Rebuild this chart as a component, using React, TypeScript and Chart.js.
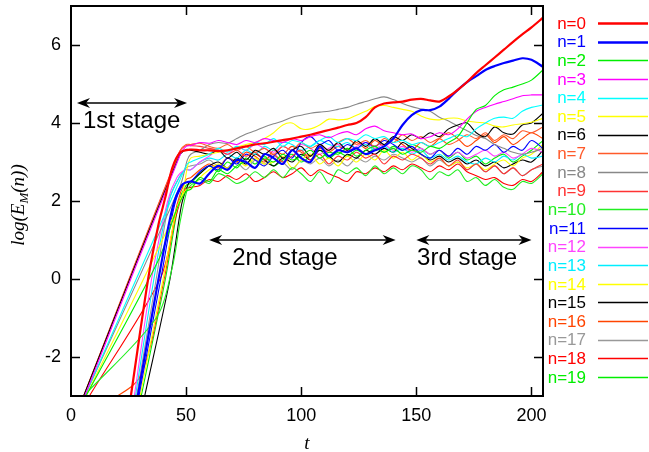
import React, { useEffect, useRef } from 'react';
import { Chart, registerables } from 'chart.js';
Chart.register(...registerables);

// shared time grid for the saturated part
const T = [52,56,60,64,68,72,76,80,84,88,92,96,100,104,108,112,116,120,124,128,132,136,140,144,148,152,156,160,164,168,172,176,180,184,188,192,196,200,205];

// growth phase points [t, log E]
const g0 = [[26,-3],[33.5,0],[38,1.4],[41,2.1],[44,2.85],[47.5,3.25]];
const g1 = [[29,-3],[38,0],[44,1.8],[48,2.4]];
const g2 = [[6.5,-3],[38,0.49],[46,1.8],[50,2.25]];
const g3 = [[6,-3],[47.5,3.2],[50,3.4]];
const g4 = [[6,-3],[47,2.5],[50.5,2.95]];
const g5 = [[6.5,-3],[47.5,2.0],[50.5,2.85]];
const g6 = [[5.5,-3],[47,3.15],[50,3.32]];
const g7 = [[5.5,-3],[47.5,3.3],[50,3.45]];
const g8 = [[6,-3],[47.5,2.4],[50.5,3.05]];
const g9 = [[5.5,-3],[47,3.25],[50,3.42]];
const g10 = [[5.5,-3],[37,-1.0],[44,0.3],[47.5,1.5],[50.5,2.3]];
const g11 = [[29.5,-3],[39,0],[45,1.9],[49,2.45]];
const g12 = [[27.5,-3],[35,0],[42,2.0],[46,2.6],[49.5,2.8]];
const g13 = [[28,-3],[36,0],[42,1.9],[46,2.5],[49.5,2.8]];
const g14 = [[30,-3],[40,0],[46,1.8],[50,2.3]];
const g15 = [[32,-3],[43,0],[48,1.9],[51,2.45]];
const g16 = [[15,-3.2],[30,-2.5],[40.5,0],[46,1.9],[50,2.55]];
const g17 = [[28.5,-3],[37,0],[43,2.1],[47,2.6],[50,2.85]];
const g18 = [[8,-3],[38.7,0],[45.5,1.6],[49.5,2.3]];
const g19 = [[30.5,-3],[41,0],[47,2.0],[50,2.4]];

// saturated phase values on T
const p0 = [3.32,3.30,3.30,3.28,3.30,3.35,3.40,3.45,3.48,3.52,3.56,3.60,3.65,3.70,3.76,3.82,3.88,3.95,4.00,4.15,4.40,4.50,4.53,4.55,4.60,4.62,4.58,4.55,4.68,4.85,5.05,5.28,5.48,5.68,5.88,6.08,6.27,6.45,6.70];
const p1 = [2.50,2.45,2.70,2.90,2.80,3.05,3.00,2.85,3.20,3.10,2.95,3.30,3.10,3.00,3.40,3.15,3.30,3.25,3.35,3.20,3.30,3.40,3.60,3.95,4.20,4.33,4.33,4.42,4.62,4.85,5.05,5.20,5.36,5.46,5.54,5.60,5.66,5.62,5.44];
const p2 = [2.30,2.60,2.50,2.80,2.70,2.90,3.00,2.85,3.10,3.00,3.20,3.05,3.15,3.30,3.10,3.25,3.20,3.35,3.15,3.30,3.40,3.25,3.35,3.20,3.30,3.25,3.40,3.35,3.50,3.65,4.00,4.35,4.45,4.70,4.85,4.92,5.00,5.10,5.36];
const p3 = [3.42,3.50,3.48,3.55,3.50,3.45,3.55,3.50,3.60,3.55,3.50,3.60,3.55,3.65,3.70,3.62,3.72,3.78,3.70,3.85,3.92,3.80,3.75,3.70,3.72,3.60,3.65,3.75,3.70,3.85,4.10,4.30,4.40,4.48,4.55,4.62,4.70,4.72,4.72];
const p4 = [3.00,3.10,3.20,3.35,3.25,3.40,3.30,3.50,3.45,3.60,3.40,3.55,3.50,3.40,3.55,3.65,3.50,3.60,3.55,3.70,3.60,3.65,3.50,3.55,3.45,3.50,3.40,3.50,3.60,3.70,3.65,3.85,4.00,4.12,4.15,4.12,4.30,4.40,4.46];
const p5 = [3.10,3.15,3.20,3.25,3.30,3.38,3.45,3.50,3.60,3.75,3.95,4.00,3.85,3.85,3.95,4.10,4.08,4.10,4.20,4.30,4.42,4.45,4.40,4.35,4.30,4.18,4.10,4.08,4.12,4.12,4.05,4.02,4.00,3.92,3.90,3.95,3.98,4.02,4.12];
const p6 = [3.30,3.25,3.20,3.30,3.10,3.25,3.05,3.30,3.20,3.35,3.10,3.30,3.40,3.15,3.45,3.30,3.50,3.30,3.55,3.40,3.60,3.45,3.65,3.55,3.70,3.60,3.75,3.65,3.85,3.95,4.00,3.75,3.65,3.90,3.75,3.72,3.95,4.00,4.25];
const p7 = [3.45,3.48,3.40,3.35,3.45,3.30,3.40,3.25,3.35,3.20,3.40,3.30,3.50,3.35,3.45,3.30,3.50,3.60,3.45,3.55,3.40,3.60,3.50,3.70,3.55,3.65,3.50,3.60,3.45,3.55,3.70,3.60,3.75,3.55,3.70,3.60,3.80,3.75,3.90];
const p8 = [3.20,3.30,3.45,3.50,3.48,3.60,3.72,3.80,3.90,3.98,4.05,4.15,4.20,4.25,4.28,4.30,4.35,4.40,4.48,4.55,4.62,4.67,4.60,4.50,4.42,4.36,4.30,4.15,4.05,3.92,3.80,3.68,3.60,3.45,3.35,3.25,3.20,3.25,3.35];
const p9 = [3.42,3.40,3.35,3.30,3.20,3.30,3.15,3.25,3.05,3.20,3.00,3.15,3.30,3.05,3.20,2.95,3.15,3.05,3.25,3.10,3.20,2.95,3.15,3.05,3.20,3.10,2.95,3.10,2.90,3.05,2.80,2.95,2.75,2.90,2.70,2.85,2.65,2.80,2.95];
const p10 = [2.40,2.55,2.45,2.70,2.60,2.45,2.55,2.75,2.60,2.80,2.60,2.85,2.70,2.50,2.75,2.45,2.80,2.70,2.85,2.65,2.90,2.70,2.85,2.70,2.90,2.80,2.55,2.75,2.65,2.80,2.50,2.60,2.40,2.55,2.35,2.30,2.50,2.45,2.70];
const p11 = [2.50,2.75,2.90,2.80,3.10,2.95,3.20,3.05,2.90,3.15,3.30,3.10,3.50,3.65,3.45,3.55,3.30,3.45,3.35,3.50,3.40,3.55,3.45,3.30,3.40,3.20,3.10,3.30,3.15,3.35,3.20,3.40,3.30,3.45,3.25,3.40,3.30,3.55,3.35];
const p12 = [2.80,3.00,3.15,3.30,3.20,3.40,3.30,3.45,3.35,3.25,3.40,3.30,3.45,3.35,3.20,3.35,3.45,3.30,3.40,3.50,3.35,3.45,3.30,3.40,3.25,3.35,3.20,3.30,3.15,3.25,3.10,3.20,3.30,3.15,3.25,3.10,3.20,3.35,3.25];
const p13 = [2.80,3.00,3.10,3.05,3.20,3.10,3.30,3.20,3.40,3.30,3.50,3.45,3.30,3.40,3.55,3.45,3.40,3.50,3.35,3.45,3.30,3.40,3.25,3.35,3.20,3.30,3.10,3.20,3.05,3.15,3.00,2.95,3.10,3.00,3.15,3.05,3.20,3.10,3.15];
const p14 = [2.30,2.60,2.80,2.95,2.85,3.05,2.90,3.10,2.95,3.00,3.15,2.85,3.05,3.20,2.95,3.10,2.90,3.15,3.00,3.20,3.05,3.30,3.10,3.25,3.05,3.20,3.00,3.10,2.90,3.00,2.85,2.95,2.80,2.95,3.05,2.90,3.10,3.20,3.45];
const p15 = [2.50,2.70,2.90,3.00,2.85,3.10,2.95,3.20,3.05,2.90,3.10,3.00,3.20,3.05,3.30,3.15,3.00,3.20,3.10,3.30,3.20,3.35,3.25,3.50,3.35,3.20,3.05,3.15,3.00,3.10,2.95,3.05,2.90,3.00,2.85,2.95,3.05,3.00,3.30];
const p16 = [2.60,2.80,2.95,2.85,3.10,3.00,3.25,3.15,3.00,3.30,3.20,3.40,3.25,3.15,3.35,3.25,3.40,3.30,3.50,3.35,3.55,3.40,3.60,3.45,3.30,3.50,3.40,3.60,3.75,3.60,3.40,3.55,3.70,3.50,3.65,3.45,3.60,3.75,3.60];
const p17 = [2.90,2.95,3.05,2.90,3.10,3.00,2.80,3.05,2.95,3.15,3.00,2.80,3.05,2.95,3.10,2.90,3.05,2.90,3.10,3.00,3.15,3.05,3.20,3.10,3.00,3.10,2.90,3.05,2.90,3.00,2.80,2.95,2.75,2.90,2.70,2.85,2.65,2.80,2.90];
const p18 = [2.35,2.40,2.55,2.50,2.65,2.55,2.70,2.50,2.60,2.75,2.60,2.70,2.85,2.65,2.80,2.70,2.60,2.50,2.75,2.70,2.85,2.75,2.90,2.80,2.95,2.85,2.75,2.90,2.80,2.95,2.75,2.65,2.55,2.60,2.45,2.40,2.55,2.50,2.75];
const p19 = [2.45,2.70,2.90,2.75,3.00,2.85,3.10,2.95,3.15,2.90,3.05,3.20,3.00,3.15,3.30,3.10,3.25,3.15,3.30,3.20,3.35,3.25,3.40,3.30,3.45,3.35,3.20,3.30,3.10,3.25,3.05,3.15,2.95,3.10,3.20,3.00,3.15,3.30,3.55];

const growth = [g0,g1,g2,g3,g4,g5,g6,g7,g8,g9,g10,g11,g12,g13,g14,g15,g16,g17,g18,g19];
const plateau = [p0,p1,p2,p3,p4,p5,p6,p7,p8,p9,p10,p11,p12,p13,p14,p15,p16,p17,p18,p19];
const seriesNames = ['n=0','n=1','n=2','n=3','n=4','n=5','n=6','n=7','n=8','n=9','n=10','n=11','n=12','n=13','n=14','n=15','n=16','n=17','n=18','n=19'];

const xTicks = [0, 50, 100, 150, 200];
const xTickLabels = ['0', '50', '100', '150', '200'];
const yTicks = [-2, 0, 2, 4, 6];
const yTickLabels = ['-2', '0', '2', '4', '6'];

const stageLabels = ['1st stage', '2nd stage', '3rd stage'];
const stageFrom = [2.6, 60, 150];
const stageTo = [50.4, 141, 200];
const stageArrowY = [4.51, 1.0, 1.0];
const stageTextT = [5.2, 70, 150.3];
const stageTextY = [3.87, 0.36, 0.36];

// styles
const colors = ['#ff0000','#0000ff','#00ee00','#ff00ff','#00ffff','#ffff00','#000000','#ff5a2a','#888888','#ff3333','#22ee22','#0000ff','#ff44ff','#00eeff','#ffff00','#000000','#ff4400','#999999','#ff0000','#00ee00'];
const widths = [2.2,2.2,1.1,1.1,1.1,1.1,1.1,1.1,1.1,1.1,1.1,1.1,1.1,1.1,1.1,1.1,1.1,1.1,1.1,1.1];

const SANS = '"Liberation Sans", Arial, sans-serif';
const SERIF = '"Liberation Serif", "Times New Roman", serif';

function arrowHead(ctx: CanvasRenderingContext2D, x: number, y: number, dir: number) {
  ctx.beginPath();
  ctx.moveTo(x, y);
  ctx.lineTo(x - dir * 13, y - 5);
  ctx.lineTo(x - dir * 9, y);
  ctx.lineTo(x - dir * 13, y + 5);
  ctx.closePath();
  ctx.fill();
}

const decor = {
  id: 'decor',
  afterDatasetsDraw(chart: any) {
    const { ctx, chartArea: a, scales } = chart;
    const x = scales.x, y = scales.y;
    ctx.save();
    ctx.strokeStyle = '#000';
    ctx.fillStyle = '#000';
    // inward ticks
    ctx.lineWidth = 1.5;
    ctx.beginPath();
    for (const v of xTicks) {
      if (v === 0) continue;
      const px = Math.round(x.getPixelForValue(v)) + 0.5;
      ctx.moveTo(px, a.bottom); ctx.lineTo(px, a.bottom - 9);
      ctx.moveTo(px, a.top); ctx.lineTo(px, a.top + 9);
    }
    for (const v of yTicks) {
      const py = Math.round(y.getPixelForValue(v)) + 0.5;
      ctx.moveTo(a.left, py); ctx.lineTo(a.left + 9, py);
      ctx.moveTo(a.right, py); ctx.lineTo(a.right - 9, py);
    }
    ctx.stroke();
    // frame
    ctx.lineWidth = 2;
    ctx.strokeRect(a.left, a.top, a.right - a.left, a.bottom - a.top);
    // stage arrows
    ctx.lineWidth = 1.5;
    ctx.font = '24px ' + SANS;
    ctx.textAlign = 'left';
    ctx.textBaseline = 'alphabetic';
    stageLabels.forEach((lab, i) => {
      const x1 = x.getPixelForValue(stageFrom[i]);
      const x2 = x.getPixelForValue(stageTo[i]);
      const py = y.getPixelForValue(stageArrowY[i]);
      ctx.beginPath();
      ctx.moveTo(x1 + 8, py); ctx.lineTo(x2 - 8, py);
      ctx.stroke();
      arrowHead(ctx, x1, py, -1);
      arrowHead(ctx, x2, py, 1);
      ctx.fillText(lab, x.getPixelForValue(stageTextT[i]), y.getPixelForValue(stageTextY[i]));
    });
    // legend
    ctx.font = '17px ' + SANS;
    ctx.textAlign = 'right';
    ctx.textBaseline = 'middle';
    seriesNames.forEach((name, i) => {
      const ry = 23 + i * 18.63;
      ctx.fillStyle = colors[i];
      ctx.fillText(name, 586, ry + 1);
      ctx.strokeStyle = colors[i];
      ctx.lineWidth = widths[i] + 0.3;
      ctx.beginPath();
      ctx.moveTo(598, Math.round(ry) + 0.5); ctx.lineTo(648, Math.round(ry) + 0.5);
      ctx.stroke();
    });
    // axis titles
    ctx.fillStyle = '#000';
    ctx.textAlign = 'left';
    ctx.textBaseline = 'alphabetic';
    const big = 'italic 19px ' + SERIF;
    const small = 'italic 13px ' + SERIF;
    ctx.save();
    ctx.translate(24, 205);
    ctx.rotate(-Math.PI / 2);
    const parts: [string, string, number][] = [['log(E', big, 0], ['M', small, 4], ['(n))', big, 0]];
    let total = 0;
    for (const [s, f] of parts) { ctx.font = f; total += ctx.measureText(s).width; }
    let cx = -total / 2;
    for (const [s, f, dy] of parts) { ctx.font = f; ctx.fillText(s, cx, dy); cx += ctx.measureText(s).width; }
    ctx.restore();
    ctx.font = big;
    ctx.textAlign = 'center';
    ctx.fillText('t', (a.left + a.right) / 2, 449);
    ctx.restore();
  },
};

export default function App() {
  const ref = useRef<HTMLCanvasElement>(null);
  useEffect(() => {
    const datasets = seriesNames.map((name, i) => ({
      label: name,
      data: [
        ...growth[i].map(([t, v]) => ({ x: t, y: v })),
        ...T.map((t, k) => ({ x: t, y: plateau[i][k] })),
      ],
      borderColor: colors[i],
      backgroundColor: colors[i],
      borderWidth: widths[i],
      pointRadius: 0,
      tension: 0.3,
      fill: false,
    }));
    const chart = new Chart(ref.current as HTMLCanvasElement, {
      type: 'line',
      data: { datasets },
      options: {
        animation: false,
        responsive: false,
        devicePixelRatio: 1,
        events: [],
        layout: { padding: { left: 0, top: 6, right: 106, bottom: 0 } },
        plugins: { legend: { display: false }, tooltip: { enabled: false } },
        scales: {
          x: {
            type: 'linear',
            min: 0,
            max: 205,
            afterBuildTicks: (s: any) => { s.ticks = xTicks.map((v) => ({ value: v })); },
            afterFit: (s: any) => { s.height = 56; s.paddingLeft = 0; s.paddingRight = 0; },
            grid: { display: false, drawTicks: false },
            border: { display: false },
            ticks: {
              padding: 9,
              color: '#000',
              font: { family: SANS, size: 18 },
              maxRotation: 0,
              callback: (_v: any, i: number) => xTickLabels[i],
            },
          },
          y: {
            type: 'linear',
            min: -3,
            max: 7,
            afterBuildTicks: (s: any) => { s.ticks = yTicks.map((v) => ({ value: v })); },
            afterFit: (s: any) => { s.width = 71; s.paddingTop = 0; s.paddingBottom = 0; },
            grid: { display: false, drawTicks: false },
            border: { display: false },
            ticks: {
              padding: 10,
              color: '#000',
              font: { family: SANS, size: 18 },
              callback: (_v: any, i: number) => yTickLabels[i],
            },
          },
        },
      },
      plugins: [decor],
    } as any);
    return () => chart.destroy();
  }, []);
  return (
    <div style={{ position: 'fixed', left: 0, top: 0, width: 649, height: 452, background: '#fff' }}>
      <canvas ref={ref} width={649} height={452} style={{ display: 'block' }} />
    </div>
  );
}
